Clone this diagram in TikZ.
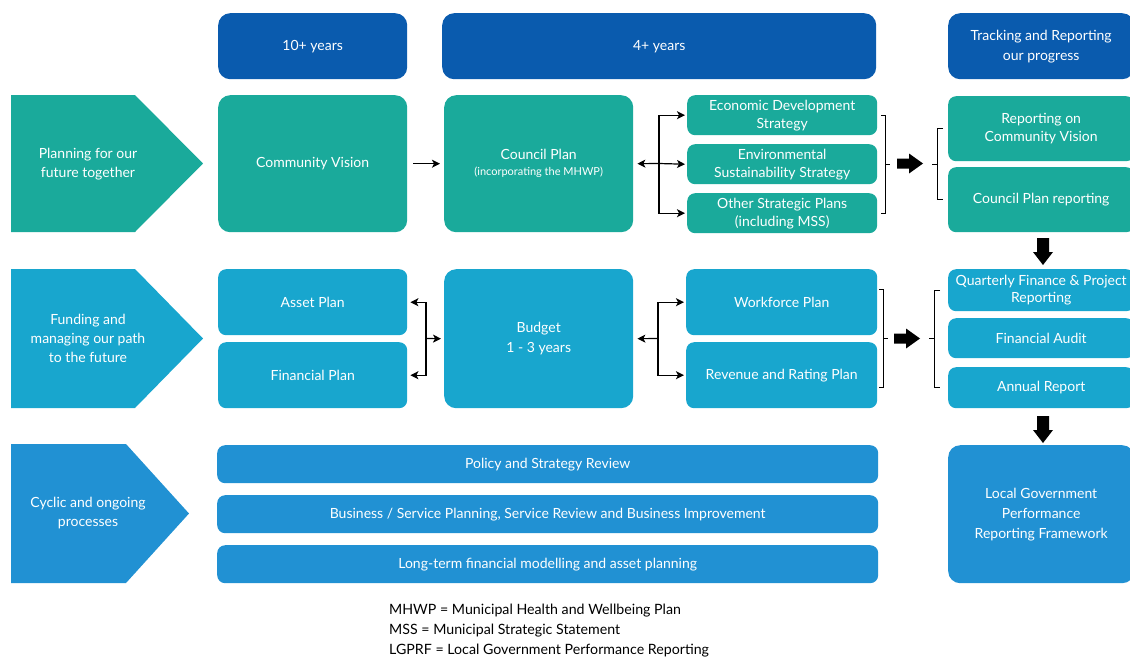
\documentclass[tikz,border=0pt]{standalone}
\usepackage{fontspec}
\setmainfont{Lato}
\usetikzlibrary{arrows.meta,calc}
\definecolor{hdr}{RGB}{10,91,174}
\definecolor{tealc}{RGB}{26,170,155}
\definecolor{cyanc}{RGB}{24,166,206}
\definecolor{bluec}{RGB}{33,145,211}
\begin{document}
\begin{tikzpicture}[x=1pt,y=-1pt,
  boxbase/.style={text=white, align=center, inner sep=2pt, anchor=north west, font=\fontsize{14}{18}\selectfont},
  bigbox/.style={boxbase, rounded corners=12pt, font=\fontsize{14}{20}\selectfont},
  smallbox/.style={boxbase, rounded corners=8pt},
  chevtext/.style={text=white, align=center, font=\fontsize{14}{19}\selectfont},
  conn/.style={line width=1.2pt, -{Stealth[length=8pt,width=8pt,inset=2pt]}},
  brk/.style={line width=1pt},
]
\useasboundingbox (0,0) rectangle (1130,662);

% headers
\node[bigbox, fill=hdr, minimum width=189pt, minimum height=66pt] (h1) at (218,13) {10+ years};
\node[bigbox, fill=hdr, minimum width=434pt, minimum height=66pt] (h2) at (442,13) {4+ years};
\node[bigbox, fill=hdr, minimum width=186pt, minimum height=66pt] (h3) at (948,13) {Tracking and Reporting\\our progress};

% row 1
\fill[tealc] (11,95) -- (135,95) -- (203,163.5) -- (135,232) -- (11,232) -- cycle;
\node[chevtext] (c1) at (88,164) {Planning for our\\future together};
\node[bigbox, fill=tealc, minimum width=189pt, minimum height=137pt] (cv) at (218,95) {Community Vision};
\node[bigbox, fill=tealc, minimum width=189pt, minimum height=137pt, font=\fontsize{14}{16}\selectfont] (cp) at (444,95) {Council Plan\\{\fontsize{11}{12}\selectfont (incorporating the MHWP)}};
\node[smallbox, fill=tealc, minimum width=190pt, minimum height=40pt] (eco) at (687,95) {Economic Development\\Strategy};
\node[smallbox, fill=tealc, minimum width=190pt, minimum height=40pt] (env) at (687,144) {Environmental\\Sustainability Strategy};
\node[smallbox, fill=tealc, minimum width=190pt, minimum height=40pt] (oth) at (687,193) {Other Strategic Plans\\(including MSS)};
\node[smallbox, fill=tealc, minimum width=186pt, minimum height=65pt] (rcv) at (948,96) {Reporting on\\Community Vision};
\node[smallbox, fill=tealc, minimum width=186pt, minimum height=65pt] (cpr) at (948,167) {Council Plan reporting};

\draw[conn] ([xshift=6pt]cv.east) -- ([xshift=-4pt]cp.west);
\coordinate (j1) at (659,163.5);
\draw[conn] (j1) -- ([xshift=4pt]cp.east);
\draw[conn] (j1) |- ([xshift=-2pt]eco.west);
\draw[conn] (j1) -- ([xshift=-2pt]env.west);
\draw[conn] (j1) |- ([xshift=-2pt]oth.west);
\draw[brk] ([xshift=4pt]eco.east) -| ([xshift=8pt]oth.east) -- ([xshift=4pt]oth.east);
\draw[brk] ([xshift=8pt]env.east) -- ++(5,0);
\coordinate (ba1) at (910,163.5);
\fill (ba1) ++(-13,-5) -- ++(12,0) -- ++(0,-5) -- ++(14,10) -- ++(-14,10) -- ++(0,-5) -- ++(-12,0) -- cycle;
\draw[brk] ([xshift=-5pt]rcv.west) -| ([xshift=-11pt]cpr.west) -- ([xshift=-5pt]cpr.west);
\draw[brk] ($([xshift=-11pt]rcv.west)!0.5!([xshift=-11pt]cpr.west)$) -- ++(-5,0);
\coordinate (bd1) at (1043,251.5);
\fill (bd1) ++(-6,-13.5) -- ++(12,0) -- ++(0,14) -- ++(4,0) -- ++(-10,13) -- ++(-10,-13) -- ++(4,0) -- cycle;

% row 2
\fill[cyanc] (11,269) -- (135,269) -- (203,338.5) -- (135,408) -- (11,408) -- cycle;
\node[chevtext] (c2) at (88,338) {Funding and\\managing our path\\to the future};
\node[smallbox, fill=cyanc, minimum width=189pt, minimum height=66pt] (ap) at (218,269) {Asset Plan};
\node[smallbox, fill=cyanc, minimum width=189pt, minimum height=66pt] (fp) at (218,342) {Financial Plan};
\node[bigbox, fill=cyanc, minimum width=189pt, minimum height=139pt] (bud) at (444,269) {Budget\\1 - 3 years};
\node[smallbox, fill=cyanc, minimum width=191pt, minimum height=66pt] (wf) at (686,269) {Workforce Plan};
\node[smallbox, fill=cyanc, minimum width=191pt, minimum height=66pt] (rr) at (686,342) {Revenue and Rating Plan};
\node[smallbox, fill=cyanc, minimum width=186pt, minimum height=42pt, font=\fontsize{14}{17}\selectfont] (qf) at (948,269) {Quarterly Finance \& Project\\Reporting};
\node[smallbox, fill=cyanc, minimum width=186pt, minimum height=40pt] (fa) at (948,318) {Financial Audit};
\node[smallbox, fill=cyanc, minimum width=186pt, minimum height=41pt] (ar) at (948,367) {Annual Report};

\coordinate (j2) at (426,338.5);
\draw[conn] (j2) |- ([xshift=3pt]ap.east);
\draw[conn] (j2) |- ([xshift=3pt]fp.east);
\draw[conn] (j2) -- ([xshift=-3pt]bud.west);
\coordinate (j3) at (658,338.5);
\draw[conn] (j3) -- ([xshift=4pt]bud.east);
\draw[conn] (j3) |- ([xshift=-2pt]wf.west);
\draw[conn] (j3) |- ([xshift=-2pt]rr.west);
\draw[brk] ([xshift=2pt,yshift=13pt]wf.east) -| ([xshift=6pt,yshift=-12pt]rr.east) -- ([xshift=2pt,yshift=-12pt]rr.east);
\draw[brk] ([xshift=6pt]$(wf.east)!0.5!(rr.east)$) -- ++(5,0);
\coordinate (ba2) at (907,338.5);
\fill (ba2) ++(-13,-5) -- ++(12,0) -- ++(0,-5) -- ++(14,10) -- ++(-14,10) -- ++(0,-5) -- ++(-12,0) -- cycle;
\draw[brk] ([xshift=-8pt]qf.west) -| ([xshift=-14pt]ar.west) -- ([xshift=-8pt]ar.west);
\draw[brk] ($([xshift=-14pt]qf.west)!0.5!([xshift=-14pt]ar.west)$) -- ++(-5,0);
\coordinate (bd2) at (1043,429.5);
\fill (bd2) ++(-6,-13.5) -- ++(12,0) -- ++(0,14) -- ++(4,0) -- ++(-10,13) -- ++(-10,-13) -- ++(4,0) -- cycle;

% row 3
\fill[bluec] (11,444) -- (126,444) -- (189,513.5) -- (126,583) -- (11,583) -- cycle;
\node[chevtext] (c3) at (88,513) {Cyclic and ongoing\\processes};
\node[smallbox, fill=bluec, minimum width=661pt, minimum height=38pt] (p1) at (217,445) {Policy and Strategy Review};
\node[smallbox, fill=bluec, minimum width=661pt, minimum height=38pt] (p2) at (217,495) {Business / Service Planning, Service Review and Business Improvement};
\node[smallbox, fill=bluec, minimum width=661pt, minimum height=38pt] (p3) at (217,545) {Long-term financial modelling and asset planning};
\node[bigbox, fill=bluec, minimum width=186pt, minimum height=138pt] (lg) at (948,445) {Local Government\\Performance\\Reporting Framework};

% legend
\node[anchor=north west, align=left, font=\fontsize{14.2}{20}\selectfont, inner sep=0pt] (leg) at (389,604) {MHWP = Municipal Health and Wellbeing Plan\\MSS = Municipal Strategic Statement\\LGPRF = Local Government Performance Reporting};
\end{tikzpicture}
\end{document}
